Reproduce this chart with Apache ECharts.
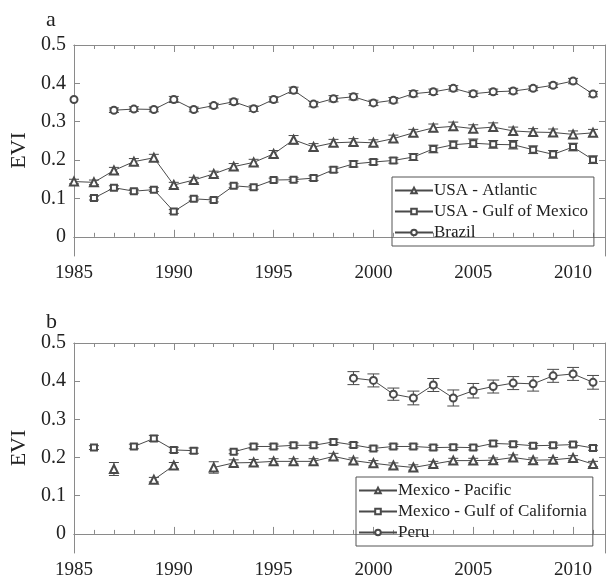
<!DOCTYPE html>
<html>
<head>
<meta charset="utf-8">
<script src="https://cdn.jsdelivr.net/npm/echarts@6/dist/echarts.min.js"></script>
<style>
  html, body { margin: 0; padding: 0; background: #fff; }
  #chart { width: 610px; height: 580px; }
</style>
</head>
<body>
<div id="chart"></div>
<script>
// years 1985 - 2011, null where no value was plotted
const years = [1985,1986,1987,1988,1989,1990,1991,1992,1993,1994,1995,1996,1997,1998,1999,2000,2001,2002,2003,2004,2005,2006,2007,2008,2009,2010,2011]
const xTicks = [1985, 1990, 1995, 2000, 2005, 2010]
const yTicks = [0, 0.1, 0.2, 0.3, 0.4, 0.5]

// panel a
const usaAtlantic = [0.144,0.142,0.173,0.196,0.206,0.135,0.148,0.164,0.183,0.194,0.216,0.253,0.234,0.245,0.247,0.245,0.256,0.271,0.284,0.288,0.282,0.286,0.276,0.273,0.272,0.267,0.271]
const usaAtlanticErr = [0.006,0.006,0.008,0.008,0.009,0.007,0.007,0.007,0.008,0.008,0.009,0.011,0.009,0.009,0.009,0.008,0.009,0.009,0.010,0.011,0.010,0.011,0.010,0.009,0.009,0.009,0.009]
const usaGulf = [null,0.101,0.128,0.119,0.123,0.066,0.099,0.096,0.133,0.129,0.148,0.149,0.153,0.175,0.190,0.195,0.199,0.208,0.229,0.240,0.244,0.241,0.240,0.227,0.215,0.234,0.201]
const usaGulfErr = [null,0.005,0.005,0.005,0.005,0.005,0.005,0.005,0.005,0.005,0.005,0.005,0.006,0.007,0.008,0.007,0.007,0.009,0.010,0.010,0.011,0.010,0.011,0.010,0.010,0.010,0.010]
const brazil = [0.358,null,0.330,0.333,0.332,0.358,0.332,0.342,0.352,0.334,0.358,0.382,0.346,0.360,0.365,0.349,0.356,0.373,0.378,0.387,0.373,0.378,0.380,0.387,0.395,0.406,0.372]
const brazilErr = [0,null,0.006,0.006,0.006,0.008,0.006,0.006,0.007,0.007,0.007,0.008,0.007,0.008,0.008,0.007,0.007,0.008,0.007,0.007,0.007,0.007,0.007,0.006,0.006,0.007,0.007]

// panel b
const mexPacific = [null,null,0.170,null,0.142,0.179,null,0.174,0.186,0.187,0.190,0.190,0.190,0.203,0.192,0.185,0.179,0.174,0.183,0.192,0.192,0.193,0.200,0.193,0.194,0.199,0.183]
const mexPacificErr = [null,null,0.017,null,0.006,0.008,null,0.015,0.008,0.008,0.007,0.007,0.007,0.008,0.007,0.007,0.007,0.007,0.007,0.006,0.006,0.006,0.007,0.006,0.006,0.006,0.007]
const mexGulfCal = [null,0.226,null,0.229,0.250,0.220,0.218,null,0.215,0.229,0.229,0.232,0.232,0.241,0.233,0.224,0.229,0.229,0.226,0.227,0.226,0.237,0.235,0.231,0.232,0.234,0.225]
const mexGulfCalErr = [null,0.005,null,0.006,0.008,0.007,0.007,null,0.005,0.006,0.006,0.006,0.006,0.007,0.006,0.006,0.006,0.006,0.006,0.006,0.006,0.007,0.006,0.006,0.006,0.006,0.006]
const peru = [null,null,null,null,null,null,null,null,null,null,null,null,null,null,0.408,0.402,0.366,0.356,0.390,0.356,0.375,0.386,0.395,0.393,0.414,0.419,0.397]
const peruErr = [null,null,null,null,null,null,null,null,null,null,null,null,null,null,0.017,0.017,0.016,0.018,0.017,0.021,0.019,0.017,0.017,0.019,0.017,0.017,0.018]

const FONT = 'Liberation Serif'
const INK = '#4a4a4a'
const FRAME = '#8a8a8a'

const chart = echarts.init(document.getElementById('chart'))

function xAxesFor(gi) {
    const base = {
        type: 'value', gridIndex: gi, min: 1985, max: 2011.6,
        splitLine: { show: false },
        axisLine: { lineStyle: { color: FRAME } }
    }
    return [
        Object.assign({}, base, {
            position: 'bottom',
            axisTick: { inside: true, length: 4, customValues: years, lineStyle: { color: FRAME } },
            axisLabel: {
                customValues: xTicks, fontFamily: FONT, fontSize: 19, color: '#222', margin: 8,
                formatter: v => String(v)
            }
        }),
        Object.assign({}, base, {
            position: 'bottom',
            axisTick: { inside: true, length: 7, customValues: xTicks, lineStyle: { color: FRAME } },
            axisLabel: { show: false }
        }),
        Object.assign({}, base, {
            position: 'top',
            axisTick: { inside: true, length: 4, customValues: years, lineStyle: { color: FRAME } },
            axisLabel: { show: false }
        }),
        Object.assign({}, base, {
            position: 'top',
            axisTick: { inside: true, length: 7, customValues: xTicks, lineStyle: { color: FRAME } },
            axisLabel: { show: false }
        })
    ]
}

function yAxesFor(gi) {
    const base = {
        type: 'value', gridIndex: gi, min: -0.05, max: 0.5,
        splitLine: { show: false },
        axisLine: { show: true, lineStyle: { color: FRAME } },
        axisTick: { inside: true, length: 6, customValues: yTicks, lineStyle: { color: FRAME } }
    }
    return [
        Object.assign({}, base, {
            position: 'left',
            name: 'EVI', nameLocation: 'middle', nameRotate: 90, nameGap: 43,
            nameTextStyle: { fontFamily: FONT, fontSize: 22, color: '#222' },
            axisLabel: {
                customValues: yTicks, fontFamily: FONT, fontSize: 20, color: '#222', margin: 8,
                formatter: v => v === 0 ? '0' : v.toFixed(1)
            }
        }),
        Object.assign({}, base, { position: 'right', axisLabel: { show: false } })
    ]
}

// line + markers
function lineSeries(name, vals, symbol, size, gi) {
    return {
        name: name, type: 'line',
        xAxisIndex: gi * 4, yAxisIndex: gi * 2,
        data: years.map((y, i) => [y, vals[i] == null ? '-' : vals[i]]),
        connectNulls: false,
        symbol: symbol, symbolSize: size, showSymbol: true,
        lineStyle: { color: INK, width: 1 },
        itemStyle: { color: INK, borderWidth: 1 },
        z: 3
    }
}

// error bars drawn through the axes
function errSeries(vals, errs, gi, cap) {
    const pts = []
    years.forEach((y, i) => {
        if (vals[i] != null && errs[i]) pts.push([y, vals[i], errs[i]])
    })
    return {
        type: 'custom', xAxisIndex: gi * 4, yAxisIndex: gi * 2,
        silent: true, z: 2,
        encode: { x: 0, y: 1 },
        data: pts,
        renderItem: (params, api) => {
            const x = api.value(0), v = api.value(1), e = api.value(2)
            const hi = api.coord([x, v + e])
            const lo = api.coord([x, v - e])
            const st = { stroke: INK, lineWidth: 1 }
            return {
                type: 'group',
                children: [
                    { type: 'line', shape: { x1: hi[0], y1: hi[1], x2: lo[0], y2: lo[1] }, style: st },
                    { type: 'line', shape: { x1: hi[0] - cap, y1: hi[1], x2: hi[0] + cap, y2: hi[1] }, style: st },
                    { type: 'line', shape: { x1: lo[0] - cap, y1: lo[1], x2: lo[0] + cap, y2: lo[1] }, style: st }
                ]
            }
        }
    }
}

function legendFor(names, left, top) {
    return {
        data: names, orient: 'vertical', left: left, top: top,
        itemWidth: 38, itemHeight: 7, itemGap: 0,
        padding: [3, 6, 3, 2],
        borderColor: '#555', borderWidth: 1,
        textStyle: { fontFamily: FONT, fontSize: 17, color: '#222', lineHeight: 21, padding: [0, 0, 0, -4] }
    }
}

const option = {
    animation: false,
    backgroundColor: '#fff',
    grid: [
        { left: 74, top: 45, width: 531, height: 211 },
        { left: 74, top: 343, width: 531, height: 212 }
    ],
    xAxis: xAxesFor(0).concat(xAxesFor(1)),
    yAxis: yAxesFor(0).concat(yAxesFor(1)),
    legend: [
        legendFor(['USA - Atlantic', 'USA - Gulf of Mexico', 'Brazil'], 392, 177),
        legendFor(['Mexico - Pacific', 'Mexico - Gulf of California', 'Peru'], 356, 477)
    ],
    graphic: [
        { type: 'text', left: 46, top: 9, style: { text: 'a', fontFamily: FONT, fontSize: 22, fill: '#222' } },
        { type: 'text', left: 46, top: 311, style: { text: 'b', fontFamily: FONT, fontSize: 22, fill: '#222' } }
    ],
    series: [
        errSeries(usaAtlantic, usaAtlanticErr, 0, 5),
        errSeries(usaGulf, usaGulfErr, 0, 5),
        errSeries(brazil, brazilErr, 0, 5),
        lineSeries('USA - Atlantic', usaAtlantic, 'emptyTriangle', 8, 0),
        lineSeries('USA - Gulf of Mexico', usaGulf, 'emptyRect', 6, 0),
        lineSeries('Brazil', brazil, 'emptyCircle', 7, 0),
        errSeries(mexPacific, mexPacificErr, 1, 5),
        errSeries(mexGulfCal, mexGulfCalErr, 1, 5),
        errSeries(peru, peruErr, 1, 6),
        lineSeries('Mexico - Pacific', mexPacific, 'emptyTriangle', 8, 1),
        lineSeries('Mexico - Gulf of California', mexGulfCal, 'emptyRect', 6, 1),
        lineSeries('Peru', peru, 'emptyCircle', 7, 1)
    ]
}
chart.setOption(option)
</script>
</body>
</html>
